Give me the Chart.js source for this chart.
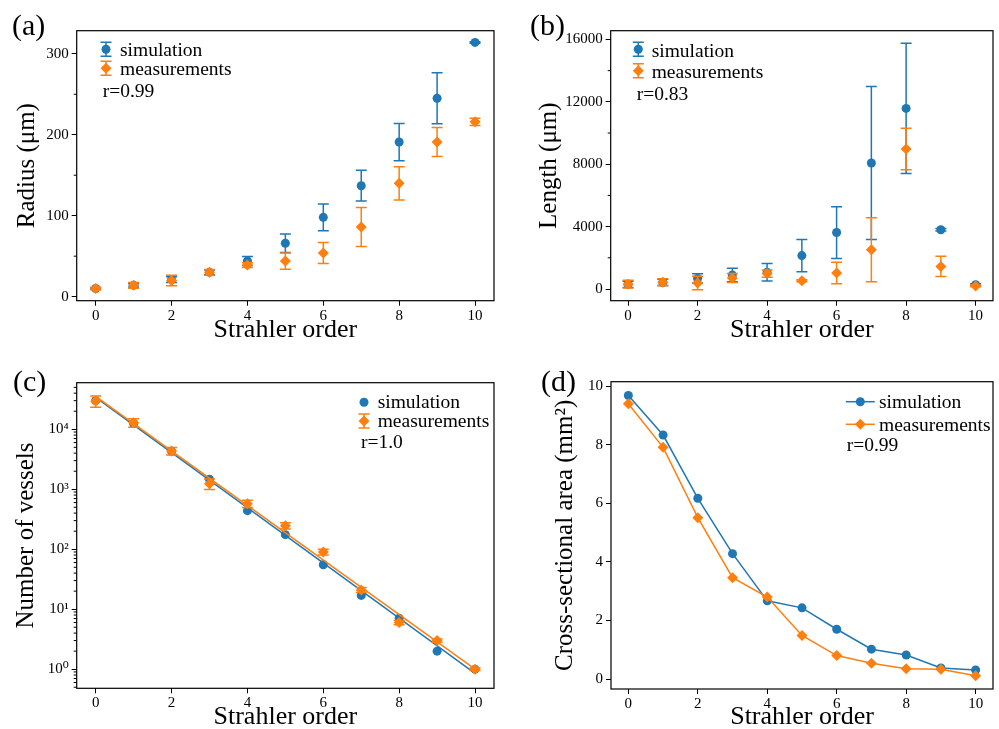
<!DOCTYPE html>
<html>
<head>
<meta charset="utf-8">
<script src="https://cdn.jsdelivr.net/npm/chart.js@4.4.0/dist/chart.umd.min.js"></script>
<style>
body{margin:0;background:#fff;width:999px;height:729px;overflow:hidden;position:relative}
canvas{position:absolute}
</style>
</head>
<body>
<canvas id="radiusChart" width="500" height="360" style="left:0;top:0;width:500px;height:360px"></canvas>
<canvas id="lengthChart" width="499" height="360" style="left:500px;top:0;width:499px;height:360px"></canvas>
<canvas id="countChart" width="500" height="369" style="left:0;top:360px;width:500px;height:369px"></canvas>
<canvas id="areaChart" width="499" height="369" style="left:500px;top:360px;width:499px;height:369px"></canvas>
<script>
// strahler orders and axis ticks
const orders = [0, 1, 2, 3, 4, 5, 6, 7, 8, 9, 10];
const xTicks = [0, 2, 4, 6, 8, 10];

// (a) radius (um)
const radiusSim = [10, 14, 21, 30, 44, 66, 98, 137, 191, 245, 314];
const radiusSimErr = [1, 2, 3.5, 3, 5.5, 11.5, 16.5, 19, 23, 31.5, 1];
const radiusMeas = [10, 14, 20, 30, 39, 44, 54, 86, 140, 191, 216];
const radiusMeasErr = [1.5, 3.5, 6.5, 3.5, 3, 10, 13, 24, 20.5, 18, 4.5];
const radiusTicks = [0, 100, 200, 300];
const radiusMinor = [50, 150, 250];

// (b) length (um)
const lengthSim = [300, 420, 680, 900, 1080, 2140, 3620, 8080, 11580, 3800, 280];
const lengthSimErr = [200, 200, 300, 430, 560, 1040, 1660, 4900, 4170, 80, 60];
const lengthMeas = [310, 430, 380, 700, 990, 530, 1030, 2520, 8970, 1450, 200];
const lengthMeasErr = [250, 220, 430, 290, 230, 60, 690, 2050, 1330, 650, 60];
const lengthTicks = [0, 4000, 8000, 12000, 16000];
const lengthMinor = [2000, 6000, 10000, 14000];

// (c) number of vessels
const countSim = [30000, 12500, 4300, 1470, 440, 175, 55, 17, 7.1, 2.0, 1.0];
const countMeas = [29600, 12900, 4350, 1240, 575, 247, 90, 21, 6.0, 3.0, 1.0];
const countMeasErr = [6350, 2050, 620, 245, 80, 30, 10, 2, 0.5, 0.2, 0.05];
const countSimFit = [{x: 0, y: 34000}, {x: 10, y: 0.85}];
const countMeasFit = [{x: 0, y: 35500}, {x: 10, y: 1.0}];
const countTicks = [1, 10, 100, 1000, 10000];
const countTickLabels = ['10⁰', '10¹', '10²', '10³', '10⁴'];

// (d) cross-sectional area (mm2)
const areaSim = [9.68, 8.33, 6.17, 4.28, 2.67, 2.43, 1.70, 1.02, 0.82, 0.375, 0.31];
const areaMeas = [9.40, 7.91, 5.51, 3.46, 2.80, 1.49, 0.80, 0.54, 0.35, 0.33, 0.11];
const areaTicks = [0, 2, 4, 6, 8, 10];

const BLUE = '#1f77b4';
const ORANGE = '#ff7f0e';
const FONT = "'Liberation Serif', 'DejaVu Serif', serif";
const CAP = 5.5;

const pts = ys => ys.map((y, i) => ({x: orders[i], y: y}));

function xAxis(h, titlePad) {
    return {
        type: 'linear', min: -0.5, max: 10.5,
        afterBuildTicks: s => { s.ticks = xTicks.map(v => ({value: v})); },
        afterFit: s => { s.height = h; },
        grid: {display: true, drawOnChartArea: false, drawTicks: true, tickLength: 5, tickColor: '#000', tickWidth: 1},
        border: {display: false},
        ticks: {color: '#000', font: {family: FONT, size: 15}, padding: 1, maxRotation: 0, autoSkip: false},
        title: {display: true, text: 'Strahler order', color: '#000',
            font: {family: FONT, size: 26, lineHeight: 1}, padding: {top: 0, bottom: titlePad}}
    };
}

function yAxis(cfg) {
    return {
        type: cfg.type || 'linear', min: cfg.min, max: cfg.max,
        afterBuildTicks: s => { s.ticks = cfg.ticks.map(v => ({value: v})); },
        afterFit: s => { s.width = cfg.width; },
        grid: {display: true, drawOnChartArea: false, drawTicks: true, tickLength: 5, tickColor: '#000', tickWidth: 1},
        border: {display: false},
        ticks: {color: '#000', font: {family: FONT, size: 15}, padding: 3, autoSkip: false,
            callback: cfg.labels ? (v => cfg.labels[cfg.ticks.indexOf(v)]) : (v => String(v))},
        title: {display: true, text: cfg.title, color: '#000',
            font: {family: FONT, size: 25, lineHeight: 1}, padding: {top: cfg.titlePad, bottom: 0}}
    };
}

function marker(ctx, style, x, y, color) {
    ctx.fillStyle = color;
    ctx.beginPath();
    if (style === 'rectRot') {
        const r = 5.5;
        ctx.moveTo(x - r, y); ctx.lineTo(x, y - r); ctx.lineTo(x + r, y); ctx.lineTo(x, y + r);
        ctx.closePath();
    } else {
        ctx.arc(x, y, 4.5, 0, Math.PI * 2);
    }
    ctx.fill();
}

function errBar(ctx, x, top, bot, color) {
    ctx.strokeStyle = color;
    ctx.lineWidth = 1.5;
    ctx.beginPath();
    ctx.moveTo(x, top); ctx.lineTo(x, bot);
    ctx.moveTo(x - CAP, top); ctx.lineTo(x + CAP, top);
    ctx.moveTo(x - CAP, bot); ctx.lineTo(x + CAP, bot);
    ctx.stroke();
}

const panelPlugin = {
    id: 'panel',
    beforeDatasetDraw(chart, args) {
        const ds = chart.data.datasets[args.index];
        if (!ds.errors) return;
        const ctx = chart.ctx, ys = chart.scales.y;
        ctx.save();
        args.meta.data.forEach((pt, i) => {
            const v = ds.data[i].y, e = ds.errors[i];
            errBar(ctx, pt.x, ys.getPixelForValue(v + e), ys.getPixelForValue(v - e), ds.backgroundColor);
        });
        ctx.restore();
    },
    afterDraw(chart, args, opts) {
        const ctx = chart.ctx, a = chart.chartArea, ys = chart.scales.y;
        ctx.save();
        // full frame
        ctx.strokeStyle = '#000';
        ctx.lineWidth = 1.2;
        ctx.strokeRect(a.left, a.top, a.right - a.left, a.bottom - a.top);
        // minor ticks on y
        ctx.lineWidth = 1;
        (opts.minor || []).forEach(v => {
            const y = ys.getPixelForValue(v);
            if (y < a.top || y > a.bottom) return;
            ctx.beginPath();
            ctx.moveTo(a.left - 3, y); ctx.lineTo(a.left, y);
            ctx.stroke();
        });
        // legend
        ctx.font = '19.5px ' + FONT;
        ctx.textBaseline = 'alphabetic';
        ctx.textAlign = 'left';
        opts.legend.forEach(it => {
            const ds = chart.data.datasets[it.ds];
            if (it.kind === 'err') errBar(ctx, it.x, it.y - 7, it.y + 7, ds.backgroundColor);
            if (it.kind === 'line') {
                ctx.strokeStyle = ds.backgroundColor;
                ctx.lineWidth = 1.5;
                ctx.beginPath();
                ctx.moveTo(it.x - 14.5, it.y); ctx.lineTo(it.x + 14.5, it.y);
                ctx.stroke();
            }
            marker(ctx, ds.pointStyle, it.x, it.y, ds.backgroundColor);
            ctx.fillStyle = '#000';
            ctx.fillText(ds.label, it.tx, it.ty);
        });
        ctx.fillStyle = '#000';
        ctx.fillText(opts.note.text, opts.note.x, opts.note.y);
        // panel letter
        ctx.font = '30px ' + FONT;
        ctx.fillText(opts.letter.text, opts.letter.x, opts.letter.y);
        ctx.restore();
    }
};

function baseOptions(padding, scales, panel) {
    return {
        responsive: false, animation: false, devicePixelRatio: 1,
        layout: {padding: padding},
        scales: scales,
        plugins: {legend: {display: false}, tooltip: {enabled: false}, panel: panel}
    };
}

function errSet(label, ys, errs, color, style, radius, order) {
    return {label: label, data: pts(ys), errors: errs, backgroundColor: color, borderColor: color,
        pointStyle: style, pointRadius: radius, pointBorderWidth: 0, showLine: false, order: order};
}

// (a)
new Chart(document.getElementById('radiusChart'), {
    type: 'scatter',
    data: {datasets: [
        errSet('simulation', radiusSim, radiusSimErr, BLUE, 'circle', 4.5, 2),
        errSet('measurements', radiusMeas, radiusMeasErr, ORANGE, 'rectRot', 5.5, 1)
    ]},
    options: baseOptions({left: 0, top: 30.7, right: 6, bottom: 0}, {
        x: xAxis(59.3, 16.5),
        y: yAxis({min: -5, max: 328.5, ticks: radiusTicks, width: 76.7, title: 'Radius (μm)', titlePad: 14.5})
    }, {
        minor: radiusMinor,
        legend: [{ds: 0, kind: 'err', x: 106, y: 49.3, tx: 120, ty: 56},
                 {ds: 1, kind: 'err', x: 106, y: 68.3, tx: 120, ty: 74.5}],
        note: {text: 'r=0.99', x: 102.7, y: 96.5},
        letter: {text: '(a)', x: 12, y: 35}
    }),
    plugins: [panelPlugin]
});

// (b)
new Chart(document.getElementById('lengthChart'), {
    type: 'scatter',
    data: {datasets: [
        errSet('simulation', lengthSim, lengthSimErr, BLUE, 'circle', 4.5, 2),
        errSet('measurements', lengthMeas, lengthMeasErr, ORANGE, 'rectRot', 5.5, 1)
    ]},
    options: baseOptions({left: 0, top: 30.7, right: 6, bottom: 0}, {
        x: xAxis(59.3, 16.5),
        y: yAxis({min: -750, max: 16560, ticks: lengthTicks, width: 110.7, title: 'Length (μm)', titlePad: 36.5})
    }, {
        minor: lengthMinor,
        legend: [{ds: 0, kind: 'err', x: 138.3, y: 49.3, tx: 151.7, ty: 56.5},
                 {ds: 1, kind: 'err', x: 138.3, y: 70.7, tx: 151.7, ty: 77.5}],
        note: {text: 'r=0.83', x: 136.7, y: 100},
        letter: {text: '(b)', x: 30, y: 35}
    }),
    plugins: [panelPlugin]
});

// (c)
const countMinor = [];
[0.1, 1, 10, 100, 1000, 10000].forEach(d => [2, 3, 4, 5, 6, 7, 8, 9].forEach(m => countMinor.push(m * d)));
new Chart(document.getElementById('countChart'), {
    type: 'scatter',
    data: {datasets: [
        {label: 'simulation', data: pts(countSim), backgroundColor: BLUE, borderColor: BLUE,
            pointStyle: 'circle', pointRadius: 4.5, pointBorderWidth: 0, showLine: false, order: 4},
        {label: 'simulation fit', data: countSimFit, borderColor: BLUE, backgroundColor: BLUE,
            showLine: true, pointRadius: 0, borderWidth: 1.5, order: 3},
        errSet('measurements', countMeas, countMeasErr, ORANGE, 'rectRot', 5.5, 2),
        {label: 'measurements fit', data: countMeasFit, borderColor: ORANGE, backgroundColor: ORANGE,
            showLine: true, pointRadius: 0, borderWidth: 1.5, order: 1}
    ]},
    options: baseOptions({left: 0, top: 22.7, right: 6, bottom: 0}, {
        x: xAxis(40.7, -1),
        y: yAxis({type: 'logarithmic', min: 0.48, max: 59800, ticks: countTicks, labels: countTickLabels,
            width: 76.7, title: 'Number of vessels', titlePad: 14})
    }, {
        minor: countMinor,
        legend: [{ds: 0, kind: 'dot', x: 364, y: 42.3, tx: 377.7, ty: 48.3},
                 {ds: 2, kind: 'err', x: 364, y: 61, tx: 377.7, ty: 66.7}],
        note: {text: 'r=1.0', x: 361, y: 88.3},
        letter: {text: '(c)', x: 13, y: 31}
    }),
    plugins: [panelPlugin]
});

// (d)
new Chart(document.getElementById('areaChart'), {
    type: 'scatter',
    data: {datasets: [
        {label: 'simulation', data: pts(areaSim), backgroundColor: BLUE, borderColor: BLUE,
            pointStyle: 'circle', pointRadius: 4.5, pointBorderWidth: 0, showLine: true, borderWidth: 1.5, order: 2},
        {label: 'measurements', data: pts(areaMeas), backgroundColor: ORANGE, borderColor: ORANGE,
            pointStyle: 'rectRot', pointRadius: 5.5, pointBorderWidth: 0, showLine: true, borderWidth: 1.5, order: 1}
    ]},
    options: baseOptions({left: 0, top: 21.7, right: 6, bottom: 0}, {
        x: xAxis(40, -1),
        y: yAxis({min: -0.34, max: 10.15, ticks: areaTicks, width: 111, title: 'Cross-sectional area (mm²)', titlePad: 52.5})
    }, {
        legend: [{ds: 0, kind: 'line', x: 360.3, y: 41.7, tx: 379, ty: 47.5},
                 {ds: 1, kind: 'line', x: 360.3, y: 64.3, tx: 379, ty: 70.5}],
        note: {text: 'r=0.99', x: 346.7, y: 91},
        letter: {text: '(d)', x: 41, y: 31}
    }),
    plugins: [panelPlugin]
});
</script>
</body>
</html>
